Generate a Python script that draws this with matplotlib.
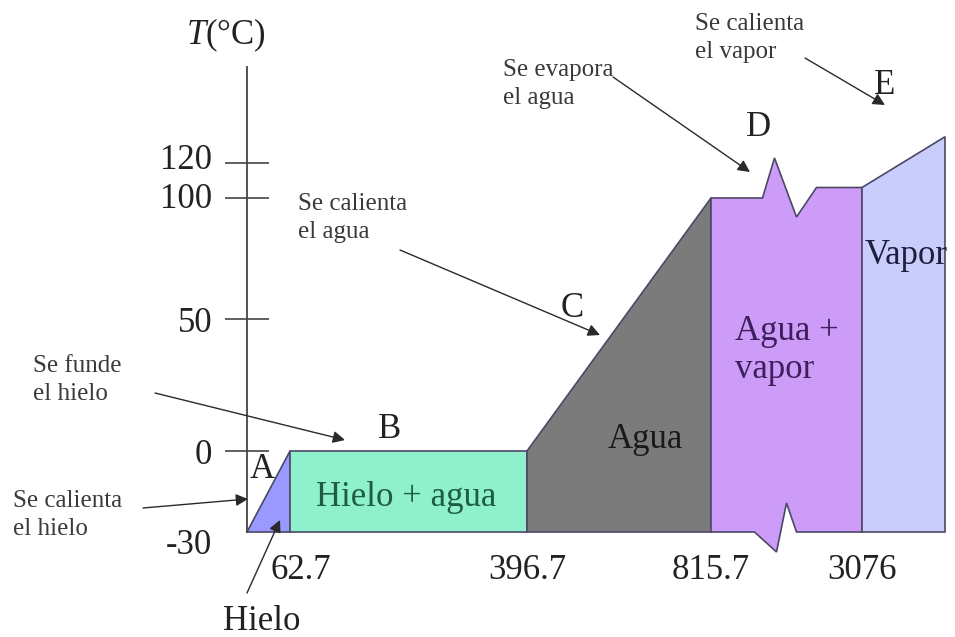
import numpy as np
import matplotlib
matplotlib.use('Agg')
import matplotlib.pyplot as plt
from matplotlib.patches import Polygon
from matplotlib.transforms import ScaledTranslation

plt.rcParams['font.family'] = ['Liberation Serif', 'DejaVu Serif']
plt.rcParams['mathtext.fontset'] = 'custom'
plt.rcParams['mathtext.rm'] = 'Liberation Serif'
plt.rcParams['mathtext.it'] = 'Liberation Serif:italic'
plt.rcParams['axes.unicode_minus'] = False

W, H = 955, 637

# heating curve of 1 kg of water (heat in kJ, temperature in °C)
heat = [0, 62.7, 396.7, 815.7, 3076, 3116.2]
temp = [-30, 0, 0, 100, 106, 135]
phases = ['Hielo', 'Hielo + agua', 'Agua', 'Agua +\nvapor', 'Vapor']
phase_colors = ['#9999ff', '#8ff0cc', '#7b7b7b', '#cc9cf8', '#c9cdfc']
heat_ticks = [62.7, 396.7, 815.7, 3076]
heat_labels = ['62.7', '396.7', '815.7', '3076']
temp_ticks = [-30, 0, 50, 100, 120]
points = ['A', 'B', 'C', 'D', 'E']
notes = ['Se calienta\nel hielo', 'Se funde\nel hielo', 'Se calienta\nel agua',
         'Se evapora\nel agua', 'Se calienta\nel vapor']

# the diagram is schematic: each axis is piecewise linear between these knots
heat_px = [247, 290, 527, 711, 862, 945]
temp_knots = [-30, 0, 50, 100, 120]
temp_px = [105, 186, 318, 439, 474]


def piecewise(xk, yk):
    xk = np.asarray(xk, float)
    yk = np.asarray(yk, float)
    lo = (yk[1] - yk[0]) / (xk[1] - xk[0])
    hi = (yk[-1] - yk[-2]) / (xk[-1] - xk[-2])

    def f(v):
        v = np.asarray(v, float)
        out = np.interp(v, xk, yk)
        out = np.where(v < xk[0], yk[0] + (v - xk[0]) * lo, out)
        out = np.where(v > xk[-1], yk[-1] + (v - xk[-1]) * hi, out)
        return out
    return f


fx, fx_inv = piecewise(heat, heat_px), piecewise(heat_px, heat)
fy, fy_inv = piecewise(temp_knots, temp_px), piecewise(temp_px, temp_knots)

fig = plt.figure(figsize=(W / 100, H / 100), dpi=100)
ax = fig.add_axes([0, 0, 1, 1])
ax.set_xscale('function', functions=(fx, fx_inv))
ax.set_yscale('function', functions=(fy, fy_inv))
ax.set_xlim(float(fx_inv(0)), float(fx_inv(W)))
ax.set_ylim(float(fy_inv(0)), float(fy_inv(H)))


def shifted(h, t, dx, dy):
    # move a data point by a few pixels (used for the axis-break zigzag)
    return float(fx_inv(fx(h) + dx)), float(fy_inv(fy(t) + dy))


base = temp[0]
for i in range(len(phases)):
    h0, h1 = heat[i], heat[i + 1]
    t0, t1 = temp[i], temp[i + 1]
    if i == 3:
        # long boiling plateau, drawn with a break
        hm = (h0 + h1) / 2
        top = [(h0, t0), shifted(hm, t0, -24, 0), shifted(hm, t0, -12, 40),
               shifted(hm, t0, 10, -19), shifted(hm, t1, 30, 0), (h1, t1)]
        bottom = [(h1, base), shifted(hm, base, 10, 0), shifted(hm, base, 0, 29),
                  shifted(hm, base, -10, -20), shifted(hm, base, -32, 0), (h0, base)]
        pts = top + bottom
    else:
        pts = [(h0, t0), (h1, t1), (h1, base), (h0, base)]
    ax.add_patch(Polygon(pts, closed=True, fc=phase_colors[i], ec='#4d4766',
                         lw=1.2, zorder=2))

# temperature axis
for s in ['top', 'right']:
    ax.spines[s].set_visible(False)
ax.spines['left'].set_position(('data', 0))
ax.spines['left'].set_bounds(-30, float(fy_inv(H - 67)))
ax.spines['left'].set_color('#444444')
ax.spines['left'].set_linewidth(1.3)
ax.spines['left'].set_zorder(3)
ax.spines['bottom'].set_position(('data', -30))
ax.spines['bottom'].set_color('none')

ax.set_yticks(temp_ticks)
ax.tick_params(axis='y', direction='inout', length=31.7, width=1.2,
               color='#444444', pad=9, labelsize=25, labelcolor='#222222')
yt = ax.yaxis.get_major_ticks()
yt[0].tick1line.set_visible(False)
# nudge the tick labels: -30 sits under the base line, the top ones a bit high
for tick, dy in zip(yt, [-7, 0, 0, 2, 5]):
    tick.label1.set_transform(tick.label1.get_transform()
                              + ScaledTranslation(0, dy / 72, fig.dpi_scale_trans))
ax.set_xticks(heat_ticks, labels=heat_labels)
ax.tick_params(axis='x', length=0, pad=16, labelsize=25, labelcolor='#222222')
xt = ax.xaxis.get_major_ticks()
xt[0].label1.set_transform(xt[0].label1.get_transform()
                           + ScaledTranslation(8 / 72, 0, fig.dpi_scale_trans))


def at(x, y):
    return x / W, 1 - y / H


ax.text(*at(226, 35), '$T$(°C)', transform=ax.transAxes, ha='center',
        va='center', fontsize=25, color='#222222')

# phase names
label_style = [((262, 622), 'center', '#222222'),
               ((406, 497), 'center', '#1f5c45'),
               ((645, 440), 'center', '#1a1a1a'),
               ((735, 350), 'left', '#3d1f5c'),
               ((906, 255), 'center', '#1f1f3d')]
for name, (xy, ha, c) in zip(phases, label_style):
    ax.text(*at(*xy), name, transform=ax.transAxes, ha=ha, va='center',
            fontsize=25, color=c, linespacing=1.2, zorder=4)

# point letters
for p, xy in zip(points, [(262, 470), (390, 430), (572, 308), (758, 128), (885, 85)]):
    ax.text(*at(*xy), p, transform=ax.transAxes, ha='center', va='center',
            fontsize=25, color='#222222', zorder=4)

# notes with arrows
note_pos = [(13, 515), (33, 380), (298, 218), (503, 84), (695, 38)]
for note, xy in zip(notes, note_pos):
    ax.text(*at(*xy), note, transform=ax.transAxes, ha='left', va='center',
            fontsize=18, color='#3a3a3a', linespacing=1.3)

arrows = [((143, 508), (248, 499)), ((247, 593), (280, 520)),
          ((155, 393), (345, 440)), ((400, 250), (600, 335)),
          ((613, 77), (750, 172)), ((805, 58), (885, 105))]
for tail, head in arrows:
    ax.annotate('', xy=at(*head), xytext=at(*tail), xycoords='axes fraction',
                arrowprops=dict(arrowstyle='-|>,head_length=0.6,head_width=0.3',
                                color='#2a2a2a', lw=1, shrinkA=0, shrinkB=0,
                                mutation_scale=12), zorder=5)

fig.savefig('out.png', dpi=100)
